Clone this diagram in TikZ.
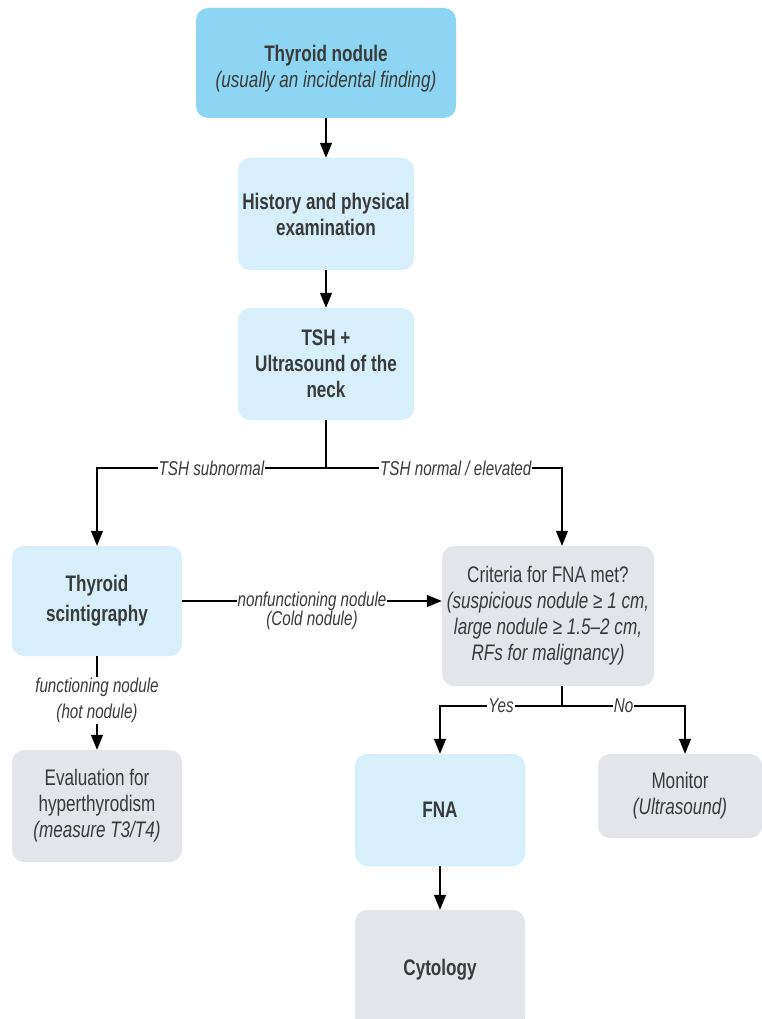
\documentclass[tikz,border=0pt]{standalone}
\usepackage{fontspec}
\setmainfont{Liberation Sans}[FakeStretch=0.76]
\usetikzlibrary{arrows.meta}
\definecolor{topblue}{HTML}{8DD5F2}
\definecolor{lightblue}{HTML}{D6EFFA}
\definecolor{lightgrey}{HTML}{E3E5EB}
\definecolor{txt}{HTML}{3A3A3A}
\begin{document}
\begin{tikzpicture}[x=1pt,y=-1pt,
  box/.style={rounded corners=12pt, inner sep=0pt, align=center, text=txt,
    font=\fontsize{22.5}{26}\selectfont},
  topbox/.style={box, fill=topblue},
  bluebox/.style={box, fill=lightblue},
  greybox/.style={box, fill=lightgrey},
  arr/.style={line width=1.3pt, draw=black, -{Triangle[length=15pt,width=12pt]}},
  ln/.style={line width=1.3pt, draw=black},
  lab/.style={fill=white, inner sep=1pt, text=txt, font=\fontsize{20}{26}\selectfont\itshape, align=center}
]
\useasboundingbox (0,0) rectangle (761,1019);
\fill[white] (0,0) rectangle (761,1019);

\node[topbox, minimum width=260pt, minimum height=110pt] (n1) at (326,63)
  {\rule{0pt}{28pt}\textbf{Thyroid nodule}\\\textit{(usually an incidental finding)}};
\node[bluebox, minimum width=176pt, minimum height=112pt] (n2) at (326,214)
  {\textbf{History and physical}\\\textbf{examination}};
\node[bluebox, minimum width=176pt, minimum height=112pt] (n3) at (326,364)
  {\textbf{TSH +}\\\textbf{Ultrasound of the}\\\textbf{neck}};
\node[bluebox, minimum width=170pt, minimum height=110pt] (n4) at (97,601)
  {\textbf{Thyroid}\\[4pt]\textbf{scintigraphy}};
\node[greybox, minimum width=212pt, minimum height=140pt] (n5) at (548,616)
  {Criteria for FNA met?\\\textit{(suspicious nodule ≥ 1 cm,}\\\textit{large nodule ≥ 1.5–2 cm,}\\\textit{RFs for malignancy)}};
\node[greybox, minimum width=170pt, minimum height=112pt] (n6) at (97,806)
  {Evaluation for\\hyperthyrodism\\\textit{(measure T3/T4)}};
\node[bluebox, minimum width=170pt, minimum height=112pt] (n7) at (440,810)
  {\textbf{FNA}};
\node[greybox, minimum width=164pt, minimum height=84pt] (n8) at (680,796)
  {Monitor\\\textit{(Ultrasound)}};
\node[greybox, minimum width=170pt, minimum height=120pt] (n9) at (440,970)
  {\textbf{Cytology}};

\draw[arr] (n1) -- (n2);
\draw[arr] (n2) -- (n3);

\coordinate (s1) at (326,468);
\coordinate (sl) at (97,468);
\coordinate (sr) at (562,468);
\draw[ln] (n3.south) -- (s1);
\draw[arr] (s1) -- node[lab]{TSH subnormal} (sl) -- (sl |- n4.north);
\draw[arr] (s1) -- node[lab, pos=0.55]{TSH normal / elevated} (sr) -- (sr |- n5.north);

\draw[arr] (n4.east) -- node[lab] (nf) {nonfunctioning nodule} (n5.west |- n4.east);
\node[lab, fill=none, anchor=north] (cold) at ([yshift=2pt]nf.south) {(Cold nodule)};

\draw[arr] (n4.south) -- node[lab, pos=0.47]{functioning nodule\\(hot nodule)} (n6.north);

\coordinate (s2) at (562,706);
\coordinate (sy) at (440,706);
\coordinate (sn) at (685,706);
\draw[ln] (s2 |- n5.south) -- (s2);
\draw[arr] (s2) -- node[lab]{Yes} (sy) -- (n7.north);
\draw[arr] (s2) -- node[lab]{No} (sn) -- (sn |- n8.north);

\draw[arr] (n7) -- (n9);
\end{tikzpicture}
\end{document}
